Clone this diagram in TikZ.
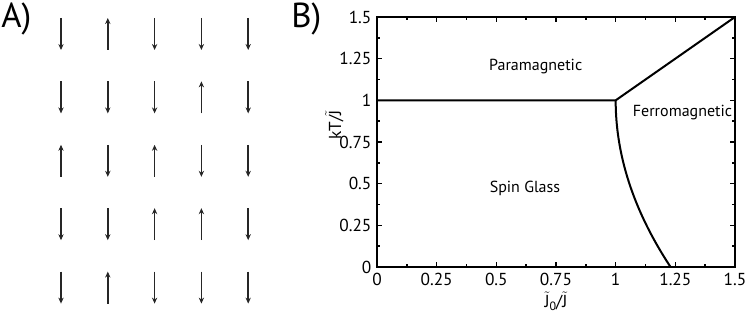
\documentclass[tikz,border=0pt]{standalone}
\usepackage{fontspec}
\setmainfont{PT Sans}
\usetikzlibrary{arrows.meta}
\newcommand{\tJ}{$\tilde{\mbox{J}}$}
\tikzset{
  spin/.style={draw=black!85, line width=1.25pt, -{Stealth[length=4.5pt,width=4pt]}},
  frame/.style={draw=black, line width=1.5pt},
  phase/.style={draw=black, line width=1.5pt},
  majtick/.style={draw=black, line width=1.1pt},
  ticklab/.style={font=\fontsize{13}{14}\selectfont, inner sep=0pt},
  region/.style={font=\fontsize{12}{14}\selectfont, inner sep=0pt},
  panel/.style={font=\fontsize{26}{28}\selectfont, inner sep=0pt, anchor=north west}
}
\begin{document}
\begin{tikzpicture}[x=0.75pt, y=-0.75pt]
\useasboundingbox (0,0) rectangle (750,313);
% Panel labels
\node[panel] (labA) at (1,3) {A)};
\node[panel] (labB) at (291,3) {B)};
% Spin grid
\foreach \r/\row in {1/{D,U,D,D,D}, 2/{D,D,D,U,D}, 3/{U,D,U,D,D}, 4/{D,D,U,U,D}, 5/{D,U,D,D,D}} {
  \foreach \d [count=\c] in \row {
    \pgfmathsetmacro{\xx}{61+46.8*(\c-1)}
    \pgfmathsetmacro{\yy}{34+63.4*(\r-1)}
    \coordinate (top-\r-\c) at (\xx,\yy-16);
    \coordinate (bot-\r-\c) at (\xx,\yy+16);
    \if\d D
      \draw[spin] (top-\r-\c) -- (bot-\r-\c);
    \else
      \draw[spin] (bot-\r-\c) -- (top-\r-\c);
    \fi
  }
}
% Phase diagram
\begin{scope}[shift={(377,267)}, x=179pt, y=125pt]
  % ticks
  \foreach \v in {0.25,0.5,...,1.25} {
    \draw[majtick] (\v,0) -- ++(0,3.75pt);
    \draw[majtick] (\v,1.5) -- ++(0,-3.75pt);
    \draw[majtick] (0,\v) -- ++(3.75pt,0);
    \draw[majtick] (1.5,\v) -- ++(-3.75pt,0);
  }
  \foreach \v in {0.125,0.375,...,1.375} {
    \draw[majtick] (\v,0) -- ++(0,2.25pt);
    \draw[majtick] (\v,1.5) -- ++(0,-2.25pt);
    \draw[majtick] (0,\v) -- ++(2.25pt,0);
    \draw[majtick] (1.5,\v) -- ++(-2.25pt,0);
  }
  \draw[frame] (0,0) rectangle (1.5,1.5);
  % tick labels
  \foreach \v/\t in {0/0,0.25/0.25,0.5/0.5,0.75/0.75,1/1,1.25/1.25,1.5/1.5} {
    \node[ticklab, anchor=north] (xl-\t) at ([yshift=-4.5pt]\v,0) {\t};
    \node[ticklab, anchor=east] (yl-\t) at ([xshift=-4pt]0,\v) {\t};
  }
  % phase boundaries
  \coordinate (tri) at (1,1);
  \coordinate (left1) at (0,1);
  \coordinate (topr) at (1.5,1.5);
  \draw[phase] (left1) -- (tri) -- (topr);
  \draw[phase] plot[domain=0:1, samples=40, smooth] ({1+0.23*(1-\x)*(1-\x)},\x);
  % region labels
  \node[region] (para) at (0.665,1.2) {Paramagnetic};
  \node[region] (ferro) at (1.28,0.925) {Ferromagnetic};
  \node[region] (sg) at (0.62,0.47) {Spin Glass};
  % axis labels
  \node[ticklab, anchor=north] (xlab) at ([yshift=-18.5pt]0.75,0) {\tJ\raisebox{-0.35ex}{\fontsize{9}{10}\selectfont 0}/\tJ};
  \node[ticklab, rotate=90] (ylab) at ([xshift=-32pt]0,0.85) {kT/\tJ};
\end{scope}
\end{tikzpicture}
\end{document}
